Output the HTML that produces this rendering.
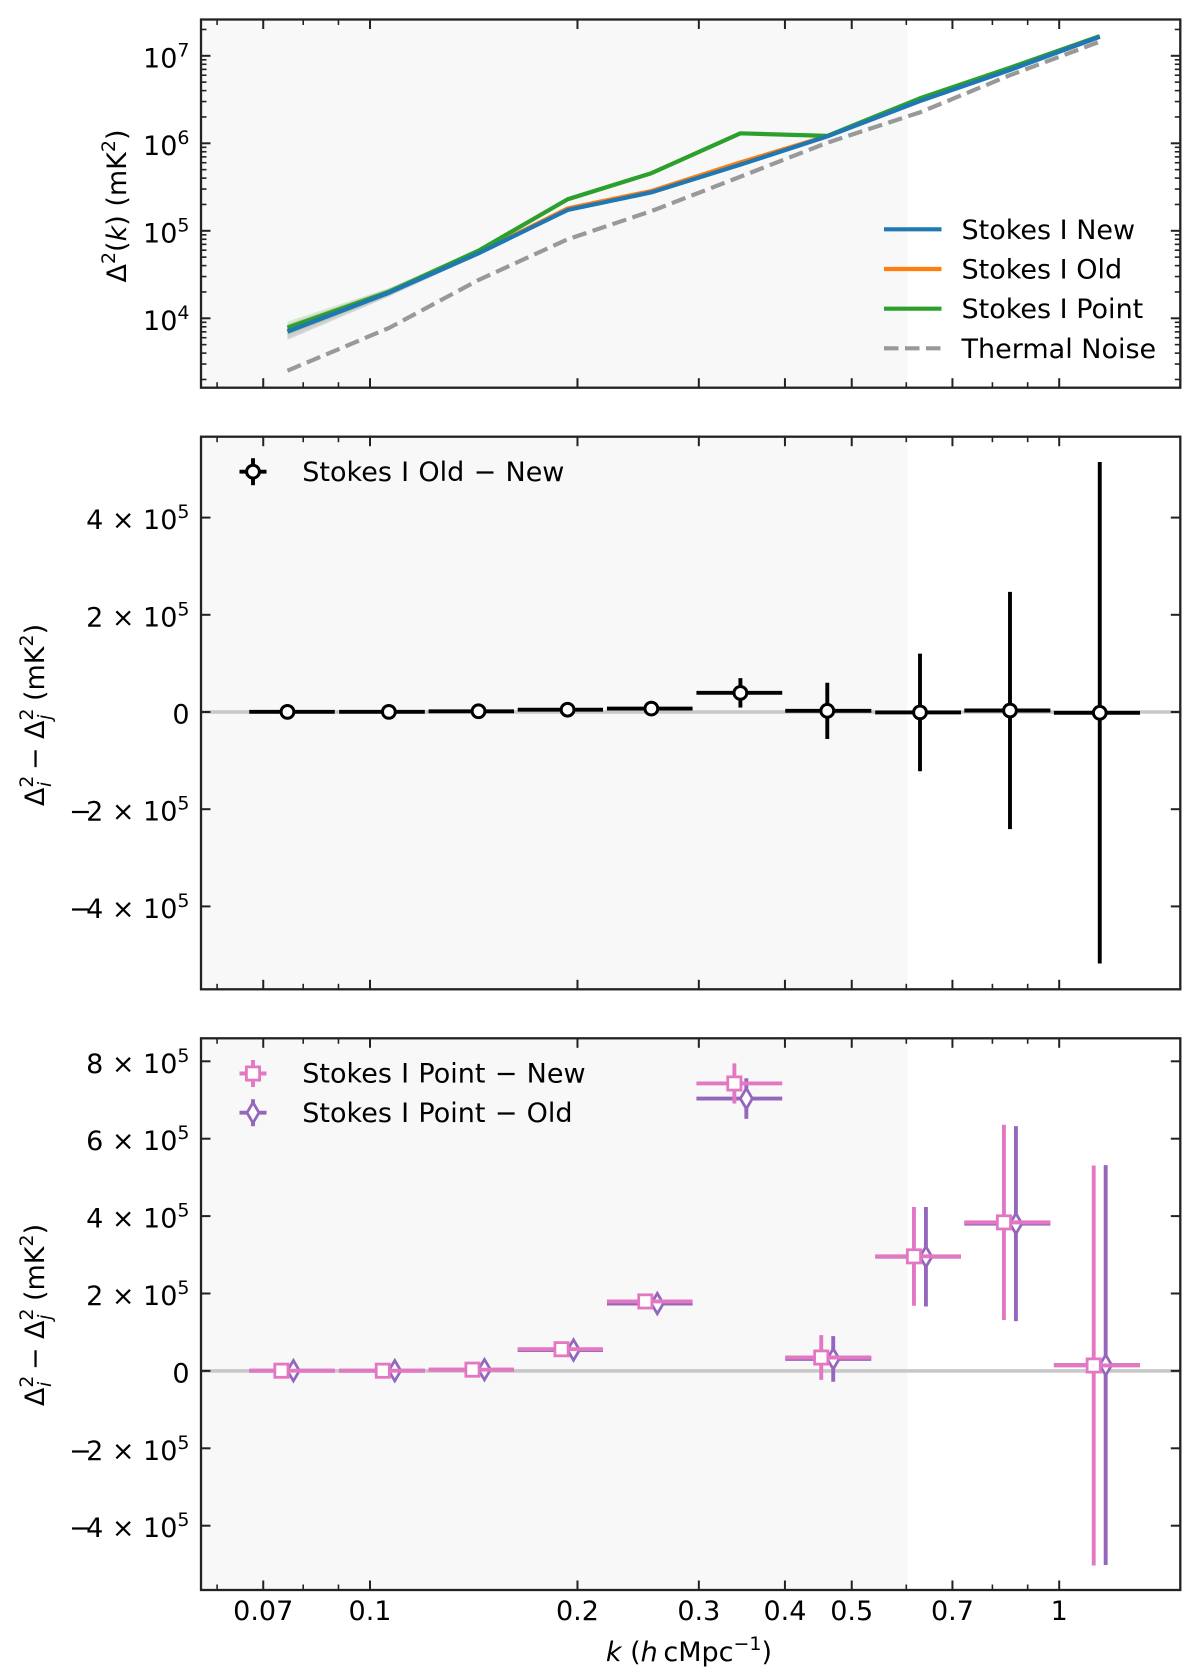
<!DOCTYPE html>
<html lang="en">
<head>
<meta charset="utf-8">
<title>Stokes I power spectrum comparison</title>
<style>
html,body{margin:0;padding:0;background:#fff;width:1200px;height:1675px;overflow:hidden}
svg{display:block}
text{font-family:"DejaVu Sans","Liberation Sans",sans-serif;fill:#000}
</style>
</head>
<body>
<svg id="chart" xmlns="http://www.w3.org/2000/svg" width="1200" height="1675" viewBox="0 0 1200 1675"></svg>
<script>
// ---- data ----
const kCenters = [0.0759,0.1065,0.1437,0.1935,0.2560,0.3447,0.4608,0.6281,0.8484,1.1451];
const kLow  = [0.0668,0.0902,0.1216,0.1638,0.2207,0.2976,0.4004,0.5408,0.7283,0.9824];
const kHigh = [0.0889,0.1201,0.1618,0.2178,0.2938,0.3964,0.5338,0.7203,0.9710,1.3098];

const stokesNew   = [7040,19600,55300,173000,275000,570000,1200000,3040000,6890000,16500000];
const stokesOld   = [7200,20000,56000,180000,285000,605000,1210000,3070000,6950000,16500000];
const stokesPoint = [7800,20100,59300,229000,455000,1300000,1215000,3270000,7310000,16800000];
const thermalNoise= [2520,7740,27400,80000,168000,415000,1016000,2260000,6000000,14500000];
const bandError   = [1400,2000,3000,9000,15000,30000,58000,125000,245000,515000];

const oldMinusNew    = [300,300,1500,4700,7000,39400,2400,-800,3100,-1600];
const oldMinusNewErr = [1000,1800,3500,7000,12000,30300,57900,121000,244000,516000];

const pointMinusNew    = [500,500,3200,56000,179500,742700,34600,296000,383800,14000];
const pointMinusNewErr = [1000,1800,3500,7000,13000,51900,57800,127600,252400,516700];
const pointMinusOld    = [500,500,3200,54000,174000,703700,31000,295000,380500,15000];
const pointMinusOldErr = [1000,1800,3500,7000,13000,52400,58900,128600,252000,516700];

const shadeLimitK = 0.602;
const xMajorTicks = [0.07,0.1,0.2,0.3,0.4,0.5,0.7,1];
const xMajorLabels = ['0.07','0.1','0.2','0.3','0.4','0.5','0.7','1'];
const xMinorTicks = [0.06,0.08,0.09,0.6,0.8,0.9];
const logYDecades = [4,5,6,7];
const logYLabels = ['10^4','10^5','10^6','10^7'];
const midYTicks = [400000,200000,0,-200000,-400000];
const midYLabels = ['4 × 10^5','2 × 10^5','0','−2 × 10^5','−4 × 10^5'];
const lowYTicks = [800000,600000,400000,200000,0,-200000,-400000];
const lowYLabels = ['8 × 10^5','6 × 10^5','4 × 10^5','2 × 10^5','0','−2 × 10^5','−4 × 10^5'];

// ---- axis functions ----
const svg = document.getElementById('chart');
const NS = 'http://www.w3.org/2000/svg';
const LEFT = 201, RIGHT = 1180.3;
const COL = {new:'#1f77b4',old:'#ff7f0e',point:'#2ca02c',pink:'#e377c2',purple:'#9467bd',noise:'#999999',spine:'#222222'};
const FS = 27;

function X(k){ return 1059.2 + 689.2*Math.log10(k); }
function Y1(v){ return 318.3 - 87.5*(Math.log10(v)-4); }
function Y2(v){ return 712 - v*97.2/200000; }
function Y3(v){ return 1370.9 - v*77.4/200000; }

function node(tag, parent, attrs){
  const e = document.createElementNS(NS, tag);
  for (const a in attrs) e.setAttribute(a, attrs[a]);
  parent.appendChild(e);
  return e;
}
function line(p,x1,y1,x2,y2,col,w){
  return node('line',p,{x1:x1,y1:y1,x2:x2,y2:y2,stroke:col,'stroke-width':w});
}
function labelText(p,str,x,y,anchor){
  const t = node('text',p,{x:x,y:y,'text-anchor':anchor,'font-size':FS});
  const parts = str.split('^');
  let head = parts[0];
  if (head.charAt(0)==='−') {
    const m = document.createElementNS(NS,'tspan');
    m.setAttribute('letter-spacing','-5.5');
    m.textContent = '−';
    t.appendChild(m);
    head = head.slice(1);
  }
  const main = document.createElementNS(NS,'tspan');
  main.textContent = head;
  t.appendChild(main);
  if (parts[1]) {
    const s = document.createElementNS(NS,'tspan');
    s.setAttribute('dy','-11');
    s.setAttribute('font-size','19');
    s.textContent = parts[1];
    t.appendChild(s);
  }
  return t;
}
function panel(name,top,bottom){
  const g = node('g',svg,{});
  
  
  const bg = node('rect',g,{x:LEFT,y:top,width:X(shadeLimitK)-LEFT,height:bottom-top,fill:'#f8f8f8'});
  
  
  return g;
}
function finishPanel(g,top,bottom,yMajor,yMinor,yLabels,showX){
  xMajorTicks.forEach(function(k){
    const a = line(g,X(k),top,X(k),top+9.5,COL.spine,2);
    
    
    const b = line(g,X(k),bottom,X(k),bottom-9.5,COL.spine,2);
    
    
  });
  xMinorTicks.forEach(function(k){
    const a = line(g,X(k),top,X(k),top+5.5,COL.spine,1.6);
    
    
    const b = line(g,X(k),bottom,X(k),bottom-5.5,COL.spine,1.6);
    
    
  });
  yMajor.forEach(function(y,i){
    const a = line(g,LEFT,y,LEFT+9.5,y,COL.spine,2);
    
    
    const b = line(g,RIGHT,y,RIGHT-9.5,y,COL.spine,2);
    
    
    const t = labelText(g,yLabels[i],189.5,y+11.5,'end');
    
    
  });
  yMinor.forEach(function(y){
    const a = line(g,LEFT,y,LEFT+5.5,y,COL.spine,1.6);
    
    
    const b = line(g,RIGHT,y,RIGHT-5.5,y,COL.spine,1.6);
    
    
  });
  if (showX) {
    xMajorTicks.forEach(function(k,i){
      const t = labelText(g,xMajorLabels[i],X(k),1620,'middle');
      
      
    });
  }
  const frame = node('rect',g,{x:LEFT,y:top,width:RIGHT-LEFT,height:bottom-top,fill:'none',stroke:COL.spine,'stroke-width':2.3});
  
  
}
function polyPoints(xs,ys,Yf){
  return xs.map(function(k,i){ return X(k).toFixed(2)+','+Yf(ys[i]).toFixed(2); }).join(' ');
}
function band(g,vals,err,col,name){
  const up = kCenters.map(function(k,i){ return X(k).toFixed(2)+','+Y1(vals[i]+err[i]).toFixed(2); });
  const lo = kCenters.map(function(k,i){ return X(k).toFixed(2)+','+Y1(Math.max(vals[i]-err[i],1)).toFixed(2); }).reverse();
  const p = node('polygon',g,{points:up.concat(lo).join(' '),fill:col,opacity:0.17});
  
  
}
function series(g,vals,col,name,dash){
  const p = node('polyline',g,{points:polyPoints(kCenters,vals,Y1),fill:'none',stroke:col,'stroke-width':4.2,'stroke-linejoin':'round'});
  if (dash) p.setAttribute('stroke-dasharray',dash);
  
  
}
function legendLine(g,y,col,label,name,dash){
  const l = line(g,884,y,941.5,y,col,4.2);
  if (dash) l.setAttribute('stroke-dasharray',dash);
  
  
  const t = labelText(g,label,961.5,y+9.5,'start');
  
  
}
function markerShape(g,shape,cx,cy,col){
  let el;
  if (shape==='circle') {
    el = node('circle',g,{cx:cx,cy:cy,r:6.4,fill:'#fff',stroke:col,'stroke-width':3});
  } else if (shape==='square') {
    el = node('rect',g,{x:cx-6.6,y:cy-6.6,width:13.2,height:13.2,fill:'#fff',stroke:col,'stroke-width':2.8});
  } else {
    const pts = [[cx,cy-10.2],[cx+6,cy],[cx,cy+10.2],[cx-6,cy]].map(function(q){return q.join(',');}).join(' ');
    el = node('polygon',g,{points:pts,fill:'#fff',stroke:col,'stroke-width':2.8});
  }
  
  
}
function errorSeries(g,vals,errs,col,shape,Yf,factor,name){
  kCenters.forEach(function(k,i){
    const y = Yf(vals[i]);
    const mx = X(k*factor);
    const h = line(g,X(kLow[i]),y,X(kHigh[i]),y,col,3.9);
    
    
    const v = line(g,mx,Yf(vals[i]+errs[i]),mx,Yf(vals[i]-errs[i]),col,3.9);
    
    
    markerShape(g,shape,mx,y,col);
  });
}
function legendError(g,cx,cy,col,shape,label,name){
  const h = line(g,cx-13.5,cy,cx+13.5,cy,col,3.9);
  
  
  const v = line(g,cx,cy-13.5,cx,cy+13.5,col,3.9);
  
  
  markerShape(g,shape,cx,cy,col);
  const t = labelText(g,label,302.3,cy+9.2,'start');
  t.setAttribute('word-spacing','0.7');
  
  
}
function zeroLine(g,Yf){
  const z = line(g,LEFT,Yf(0),RIGHT,Yf(0),'#c8c8c8',3.6);
  
  
}

// ---- top panel ----
const p1Top = 19.5, p1Bottom = 387.7;
const g1 = panel('power-spectrum-panel',p1Top,p1Bottom);
band(g1,stokesOld,bandError,COL.old,'stokes-old-band');
band(g1,stokesPoint,bandError,COL.point,'stokes-point-band');
band(g1,stokesNew,bandError,COL.new,'stokes-new-band');
series(g1,stokesOld,COL.old,'stokes-old-line');
series(g1,stokesPoint,COL.point,'stokes-point-line');
series(g1,thermalNoise,COL.noise,'thermal-noise-line','14.5 6.5');
series(g1,stokesNew,COL.new,'stokes-new-line');
legendLine(g1,229.3,COL.new,'Stokes I New','legend-stokes-new');
legendLine(g1,269,COL.old,'Stokes I Old','legend-stokes-old');
legendLine(g1,308.7,COL.point,'Stokes I Point','legend-stokes-point');
legendLine(g1,348.3,COL.noise,'Thermal Noise','legend-thermal-noise','14.5 6.5');
const decadeMinors = [];
[3,4,5,6,7].forEach(function(d){
  [2,3,4,5,6,7,8,9].forEach(function(m){
    const y = Y1(m*Math.pow(10,d));
    if (y>p1Top && y<p1Bottom) decadeMinors.push(y);
  });
});
finishPanel(g1,p1Top,p1Bottom,logYDecades.map(function(d){return Y1(Math.pow(10,d));}),decadeMinors,logYLabels,false);

// ---- middle panel ----
const p2Top = 436.7, p2Bottom = 989.3;
const g2 = panel('old-minus-new-panel',p2Top,p2Bottom);
zeroLine(g2,Y2);
errorSeries(g2,oldMinusNew,oldMinusNewErr,'#000000','circle',Y2,1,'old-minus-new');
legendError(g2,253,471.7,'#000000','circle','Stokes I Old − New','legend-old-minus-new');
finishPanel(g2,p2Top,p2Bottom,midYTicks.map(Y2),[],midYLabels,false);

// ---- bottom panel ----
const p3Top = 1038.3, p3Bottom = 1590;
const g3 = panel('point-difference-panel',p3Top,p3Bottom);
zeroLine(g3,Y3);
errorSeries(g3,pointMinusOld,pointMinusOldErr,COL.purple,'diamond',Y3,1.02,'point-minus-old');
errorSeries(g3,pointMinusNew,pointMinusNewErr,COL.pink,'square',Y3,0.98,'point-minus-new');
legendError(g3,253,1073.5,COL.pink,'square','Stokes I Point − New','legend-point-minus-new');
legendError(g3,253,1112.7,COL.purple,'diamond','Stokes I Point − Old','legend-point-minus-old');
finishPanel(g3,p3Top,p3Bottom,lowYTicks.map(Y3),[],lowYLabels,true);

// ---- axis titles ----
function rotatedTitle(cx,cy){
  return node('text',svg,{transform:'translate('+cx+','+cy+') rotate(-90)','text-anchor':'middle','font-size':FS});
}
function addSpan(t,txt,opts){
  const s = document.createElementNS(NS,'tspan');
  for (const a in opts) s.setAttribute(a,opts[a]);
  s.textContent = txt;
  t.appendChild(s);
}
const title1 = rotatedTitle(126,206);


addSpan(title1,'Δ',{});
addSpan(title1,'2',{dy:-11,'font-size':19});
addSpan(title1,'(',{dy:11});
addSpan(title1,'k',{'font-style':'italic'});
addSpan(title1,') (mK',{});
addSpan(title1,'2',{dy:-11,'font-size':19});
addSpan(title1,')',{dy:11});

function diffTitle(cy,name){
  const t = rotatedTitle(44,cy);
  
  
  addSpan(t,'Δ',{});
  addSpan(t,'2',{dy:-11,'font-size':19});
  addSpan(t,'i',{dy:18,dx:-11.5,'font-size':19,'font-style':'italic'});
  addSpan(t,' − Δ',{dy:-7,dx:3});
  addSpan(t,'2',{dy:-11,'font-size':19});
  addSpan(t,'j',{dy:18,dx:-11.5,'font-size':19,'font-style':'italic'});
  addSpan(t,' (mK',{dy:-7,dx:5});
  addSpan(t,'2',{dy:-11,'font-size':19});
  addSpan(t,')',{dy:11});
}
diffTitle(715,'y-axis-title-old-new');
diffTitle(1315,'y-axis-title-point');

const xt = node('text',svg,{x:689,y:1661,'text-anchor':'middle','font-size':FS});


addSpan(xt,'k',{'font-style':'italic'});
addSpan(xt,' (',{});
addSpan(xt,'h',{'font-style':'italic'});
addSpan(xt,' cMpc',{dx:-3});
addSpan(xt,'−1',{dy:-11,'font-size':19});
addSpan(xt,')',{dy:11});
</script>
</body>
</html>
